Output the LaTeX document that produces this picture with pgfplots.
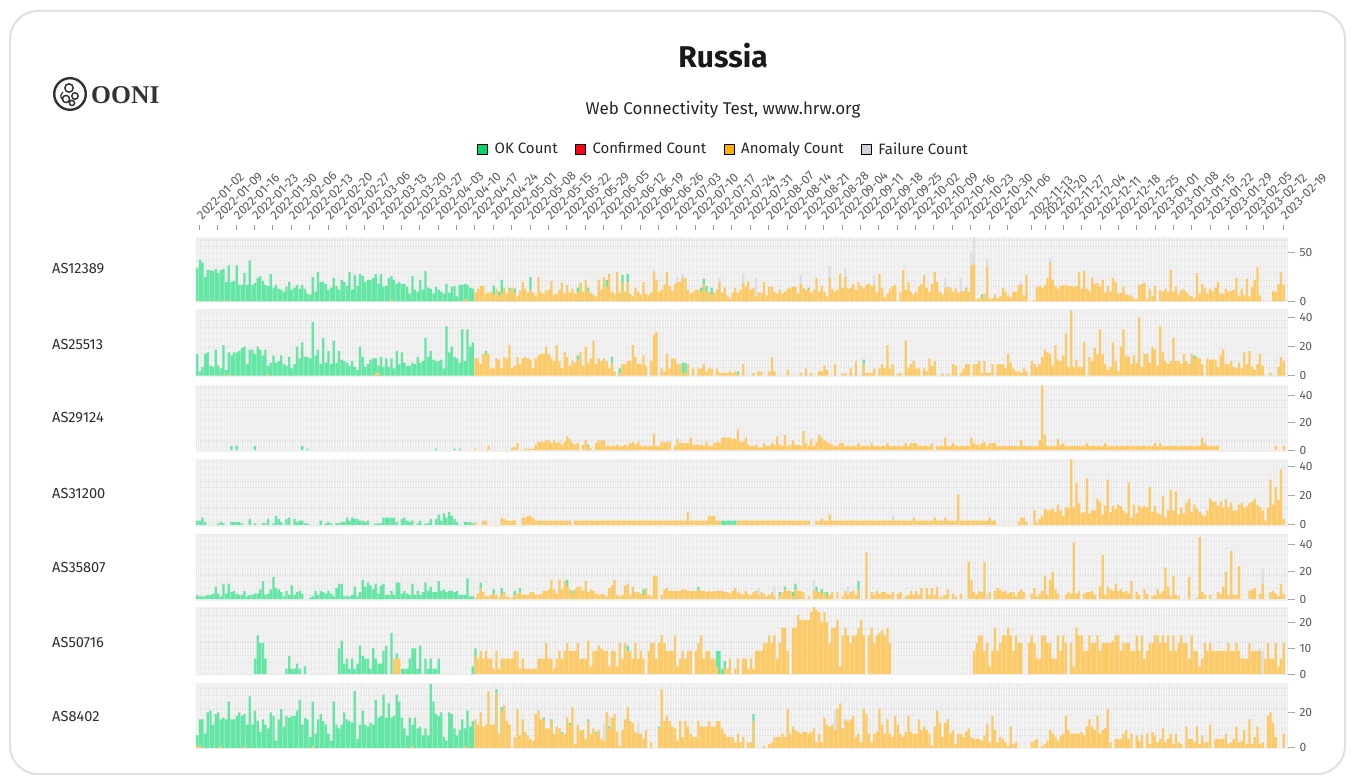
\documentclass[border=0pt]{standalone}
\usepackage{fontspec}
\usepackage{pgfplots}
\pgfplotsset{compat=1.18}
\setmainfont{Fira Sans}
\newfontfamily\logofont{Liberation Serif}
\definecolor{okc}{HTML}{64E6A5}
\definecolor{anc}{HTML}{FDCA68}
\definecolor{flc}{HTML}{DCE1E8}
\definecolor{bgc}{HTML}{EDEDED}
\definecolor{hgc}{HTML}{E3E3E3}
\definecolor{vgc}{HTML}{F5F5F5}
\definecolor{txc}{HTML}{5A5A5A}
\definecolor{lgok}{HTML}{00D66B}
\definecolor{lgcf}{HTML}{FF0019}
\definecolor{lgan}{HTML}{FFB000}
\definecolor{lgfl}{HTML}{CED4DA}
\pgfplotsset{
  panel/.style={scale only axis,width=1092pt,xmin=-0.5,xmax=415.65,
    axis line style={draw=none},ybar,bar shift=0pt,bar width=2.25pt,
    xtick=\empty,ytick pos=right,yticklabel pos=right,tick align=outside,
    major tick length=7pt,ytick style={draw=gray!70,line width=0.9pt},
    /pgf/number format/assume math mode=true,
    yticklabel style={font=\fontsize{12}{14}\selectfont,text=txc,xshift=1pt}},
  okb/.style={fill=okc,draw=none,bar shift=0pt},
  anb/.style={fill=anc,draw=none,bar shift=0pt},
  flb/.style={fill=flc,draw=none,bar shift=0pt},
  table/gz/.style={row sep=crcr,header=false,x expr=\coordindex,y index=0},
  table/az/.style={row sep=crcr,header=false,x expr=\coordindex+106,y index=0},
}
\newcommand\panelbg[2]{%
  \fill[bgc] (196,776-#2) rectangle (1288,776-#1);
  \draw[hgc,line width=1.1pt,xstep=2000,ystep=6.7] (196,776-#2) grid (1288,776-#1);
  \draw[vgc,line width=0.45pt,xstep=2.624,ystep=2000] (196,776-#2) grid (1288,776-#1);
}
\newcommand\aslabel[2]{\node[anchor=west,inner sep=0pt,text=black!82,font=\fontsize{14.6}{16}\selectfont] at (52,775-#2) {#1};}
\begin{document}
\begin{tikzpicture}[x=1pt,y=1pt]
\useasboundingbox (0,0) rectangle (1362,776);
\fill[white] (0,0) rectangle (1362,776);
\draw[draw=black!12,line width=2pt,rounded corners=28pt] (10,2) rectangle (1345,765);
\node[font=\fontsize{30}{34}\selectfont\bfseries,text=black!90] at (723,776-56) {Russia};
\node[font=\fontsize{17}{19}\selectfont,text=black!85] at (723,776-110) {Web Connectivity Test, www.hrw.org};
% logo
\draw[black!80,line width=2.4pt] (70,682) circle (15.8);
\draw[black!80,line width=1.5pt] (69,688) circle (4.2) (75,680) circle (3.2) (66,677) circle (3.6) (72,673) circle (2.6);
\draw[black!80,line width=1.2pt] (63,684) .. controls (60,680) .. (63,676);
\node[anchor=west,inner sep=0pt,font=\logofont\bfseries\fontsize{25.6}{27}\selectfont,text=black!80] at (91,681) {OONI};
\aslabel{AS12389}{268}\aslabel{AS25513}{343}\aslabel{AS29124}{417}\aslabel{AS31200}{492}\aslabel{AS35807}{566}\aslabel{AS50716}{641}\aslabel{AS8402}{715}
\panelbg{236.7}{302}\panelbg{309.3}{377}\panelbg{385}{451.7}\panelbg{459}{526.7}\panelbg{534}{600.7}\panelbg{607.3}{675.3}\panelbg{683.3}{749}

% tick + legend axis
\begin{axis}[at={(196pt,546pt)},anchor=south west,scale only axis,width=1092pt,height=5pt,
  xmin=196,xmax=1288,ymin=0,ymax=5,axis line style={draw=none},ytick=\empty,
  xtick pos=top,xticklabel pos=top,tick align=inside,major tick length=5pt,
  xtick style={draw=gray!80,line width=0.9pt},
  xtick={199.5,217.9,236.2,254.6,272.9,291.3,309.7,328.0,346.4,364.7,383.1,401.5,419.8,438.2,456.5,474.9,493.3,511.6,530.0,548.3,566.7,585.1,603.4,621.8,640.1,658.5,676.9,695.2,713.6,731.9,750.3,768.7,787.0,805.4,823.7,842.1,860.5,878.8,897.2,915.5,933.9,952.3,970.6,989.0,1007.3,1031.7,1045,1063.3,1081.7,1100,1118.3,1136.7,1155,1173.3,1191.7,1210,1228.3,1246.7,1263.3,1283.3},
  xticklabels={2022-01-02,2022-01-09,2022-01-16,2022-01-23,2022-01-30,2022-02-06,2022-02-13,2022-02-20,2022-02-27,2022-03-06,2022-03-13,2022-03-20,2022-03-27,2022-04-03,2022-04-10,2022-04-17,2022-04-24,2022-05-01,2022-05-08,2022-05-15,2022-05-22,2022-05-29,2022-06-05,2022-06-12,2022-06-19,2022-06-26,2022-07-03,2022-07-10,2022-07-17,2022-07-24,2022-07-31,2022-08-07,2022-08-14,2022-08-21,2022-08-28,2022-09-04,2022-09-11,2022-09-18,2022-09-25,2022-10-02,2022-10-09,2022-10-16,2022-10-23,2022-10-30,2022-11-06,2022-11-13,2022-11-20,2022-11-27,2022-12-04,2022-12-11,2022-12-18,2022-12-25,2023-01-01,2023-01-08,2023-01-15,2023-01-22,2023-01-29,2023-02-05,2023-02-12,2023-02-19},
  x tick label style={rotate=45,anchor=south west,inner sep=0pt,xshift=5pt,yshift=1pt,font=\fontsize{12.5}{14}\selectfont,text=txc},
  legend style={at={(0.4831,16.2)},anchor=center,draw=none,fill=none,legend columns=4,
    font=\fontsize{15}{17}\selectfont,text=black!85,
    /tikz/every even column/.append style={column sep=15.5pt},
    /tikz/every odd column/.append style={column sep=5pt}},
  legend cell align=left,
  legend image code/.code={\fill[#1] (0cm,-0.175cm) rectangle (0.35cm,0.175cm);},
]
\addlegendimage{fill=lgok}\addlegendentry{OK Count}
\addlegendimage{fill=lgcf}\addlegendentry{Confirmed Count}
\addlegendimage{fill=lgan}\addlegendentry{Anomaly Count}
\addlegendimage{fill=lgfl}\addlegendentry{Failure Count}
\end{axis}

% AS12389
\begin{axis}[panel,at={(196pt,474pt)},anchor=south west,height=65.3pt,ymin=-0.7,ymax=66.5,ytick={0,50}]
\addplot[flb] coordinates {(296,66)(295,50)(301,44)(325,45)(241,36)(247,34)(230,27)(258,27)(285,24)(291,24)(314,20)(208,29)(213,24)(174,32)(185,28)(183,25)(199,24)};
\addplot[okb] table[gz] {34\\43\\40\\25\\32\\32\\31\\33\\29\\32\\
33\\20\\37\\20\\21\\37\\17\\17\\29\\17\\
42\\17\\19\\24\\26\\21\\17\\16\\28\\14\\
17\\13\\12\\10\\15\\20\\12\\14\\17\\13\\
17\\13\\8\\7\\25\\10\\30\\20\\20\\18\\
12\\14\\24\\16\\12\\22\\20\\16\\30\\12\\
27\\16\\28\\26\\20\\22\\22\\24\\28\\18\\
28\\15\\16\\24\\26\\22\\18\\20\\18\\18\\
15\\8\\26\\12\\10\\22\\12\\31\\14\\13\\
8\\15\\12\\10\\8\\18\\9\\15\\16\\5\\
17\\17\\18\\17\\14\\13\\};
\addplot[okb] coordinates {(113,16)(115,10)(116,22)(119,14)(121,13)(127,25)(145,14)(146,19)(149,14)(156,22)(162,27)(164,28)(192,14)(193,23)(194,16)(196,14)(233,14)(293,14)(299,7)};
\addplot[anb] table[az] {9\\13\\16\\16\\8\\9\\10\\7\\13\\6\\
9\\14\\8\\12\\14\\9\\5\\11\\20\\13\\
9\\12\\9\\6\\25\\10\\8\\11\\12\\21\\
7\\8\\12\\19\\8\\17\\9\\13\\8\\10\\
19\\10\\22\\11\\9\\7\\5\\22\\12\\25\\
15\\28\\10\\8\\30\\9\\19\\10\\20\\8\\
5\\14\\10\\7\\20\\8\\6\\9\\30\\22\\
10\\12\\17\\30\\16\\11\\18\\20\\20\\24\\
24\\12\\8\\10\\12\\12\\10\\18\\10\\10\\
7\\9\\12\\20\\9\\14\\6\\3\\9\\14\\
9\\12\\19\\15\\20\\12\\14\\5\\9\\9\\
20\\6\\15\\15\\10\\8\\12\\8\\10\\13\\
14\\15\\15\\8\\18\\14\\12\\13\\9\\12\\
24\\10\\16\\10\\5\\24\\13\\10\\12\\28\\
14\\25\\13\\14\\18\\12\\20\\16\\14\\17\\
18\\16\\17\\9\\28\\14\\4\\8\\13\\16\\
17\\0\\9\\32\\12\\20\\10\\7\\10\\15\\
18\\27\\14\\10\\18\\30\\20\\10\\7\\13\\
15\\14\\10\\13\\9\\10\\11\\13\\10\\37\\
39\\2\\3\\4\\8\\35\\3\\3\\7\\3\\
5\\14\\10\\6\\4\\10\\10\\17\\17\\6\\
27\\0\\0\\1\\15\\16\\14\\17\\24\\40\\
22\\16\\13\\16\\17\\17\\16\\16\\15\\16\\
30\\13\\31\\13\\11\\24\\18\\19\\15\\22\\
9\\16\\10\\24\\20\\8\\9\\15\\7\\6\\
6\\3\\2\\17\\18\\19\\2\\13\\5\\16\\
0\\12\\10\\13\\10\\32\\10\\15\\7\\12\\
12\\10\\6\\5\\3\\29\\8\\18\\14\\8\\
13\\10\\14\\20\\8\\8\\13\\10\\11\\12\\
24\\5\\13\\6\\23\\5\\15\\22\\35\\6\\
0\\0\\0\\0\\11\\10\\18\\30\\17\\};
\addplot[anb] coordinates {(1,1)(8,1)(11,1)(74,2)(102,2)(103,2)};
\end{axis}

% AS25513
\begin{axis}[panel,at={(196pt,399pt)},anchor=south west,height=67.7pt,ymin=-0.9,ymax=45.8,ytick={0,20,40}]
\addplot[okb] table[gz] {15\\3\\6\\15\\16\\7\\6\\18\\7\\5\\
21\\4\\16\\14\\16\\16\\17\\19\\20\\8\\
18\\18\\15\\20\\18\\14\\18\\7\\9\\14\\
9\\10\\14\\8\\7\\13\\5\\8\\20\\12\\
23\\13\\13\\12\\37\\14\\18\\8\\26\\9\\
17\\8\\24\\9\\17\\11\\10\\9\\7\\10\\
6\\4\\20\\13\\6\\8\\11\\12\\12\\7\\
13\\6\\12\\6\\12\\5\\17\\8\\16\\9\\
7\\7\\9\\8\\13\\9\\10\\26\\13\\17\\
11\\10\\10\\11\\5\\34\\16\\20\\13\\12\\
9\\32\\10\\32\\20\\23\\};
\addplot[okb] coordinates {(110,17)(145,14)(158,13)(161,5)(185,9)(186,9)(206,3)(254,11)(380,14)};
\addplot[anb] table[az] {12\\12\\8\\15\\15\\15\\5\\5\\12\\11\\
5\\13\\12\\21\\5\\7\\13\\8\\12\\13\\
12\\11\\5\\12\\14\\15\\15\\20\\15\\12\\
10\\21\\10\\5\\16\\13\\7\\10\\9\\11\\
16\\7\\20\\9\\12\\24\\8\\12\\10\\12\\
10\\5\\9\\3\\0\\2\\8\\8\\10\\10\\
21\\13\\8\\8\\14\\7\\0\\10\\28\\30\\
0\\5\\3\\15\\5\\12\\12\\8\\8\\2\\
2\\8\\0\\5\\0\\5\\5\\8\\3\\5\\
5\\0\\5\\2\\2\\2\\2\\3\\2\\3\\
1\\0\\8\\0\\0\\0\\2\\0\\3\\3\\
0\\0\\3\\13\\3\\0\\0\\0\\0\\4\\
0\\0\\0\\0\\2\\0\\5\\0\\2\\0\\
0\\3\\3\\7\\4\\0\\0\\8\\0\\0\\
1\\2\\0\\5\\0\\10\\0\\0\\8\\2\\
2\\2\\5\\0\\5\\8\\5\\21\\5\\8\\
0\\1\\2\\0\\24\\5\\8\\10\\5\\5\\
0\\5\\3\\12\\7\\10\\0\\0\\1\\0\\
1\\0\\8\\7\\0\\2\\5\\8\\8\\0\\
8\\8\\10\\2\\10\\2\\2\\8\\0\\8\\
8\\8\\5\\15\\9\\5\\3\\3\\2\\5\\
3\\0\\10\\8\\6\\8\\13\\18\\16\\15\\
7\\21\\11\\10\\14\\29\\6\\45\\6\\11\\
6\\6\\23\\0\\13\\10\\19\\15\\32\\15\\
8\\4\\6\\23\\10\\3\\20\\32\\14\\13\\
8\\14\\9\\40\\6\\15\\15\\9\\20\\18\\
7\\34\\16\\10\\8\\10\\26\\10\\10\\8\\
15\\10\\8\\15\\12\\13\\12\\8\\0\\12\\
11\\11\\11\\6\\14\\18\\8\\8\\10\\6\\
5\\9\\5\\16\\8\\17\\6\\4\\8\\15\\
7\\0\\0\\2\\0\\0\\6\\13\\10\\};
\addplot[anb] coordinates {(12,1)(27,1)(68,2)(69,2)};
\end{axis}

% AS29124
\begin{axis}[panel,at={(196pt,324.3pt)},anchor=south west,height=66.7pt,ymin=-1.2,ymax=47.3,ytick={0,20,40}]
\addplot[okb] coordinates {(13,3)(15,3)(22,3)(40,3)(42,1)(91,1)(98,1)(100,1)(149,4)};
\addplot[anb] table[az] {1\\0\\0\\0\\0\\3\\0\\0\\0\\0\\
0\\0\\0\\0\\2\\2\\5\\0\\0\\1\\
1\\1\\1\\4\\6\\6\\6\\7\\7\\5\\
7\\5\\6\\4\\6\\10\\8\\5\\4\\5\\
0\\4\\7\\3\\1\\0\\5\\7\\7\\7\\
3\\3\\3\\3\\4\\3\\3\\4\\3\\5\\
6\\4\\6\\3\\3\\3\\3\\3\\12\\3\\
3\\6\\6\\6\\6\\0\\3\\8\\5\\5\\
5\\5\\9\\4\\4\\4\\4\\3\\6\\3\\
3\\5\\6\\5\\9\\9\\9\\9\\8\\8\\
15\\6\\6\\9\\4\\3\\3\\4\\2\\2\\
5\\3\\3\\5\\4\\10\\4\\3\\11\\3\\
4\\7\\4\\4\\3\\14\\5\\3\\8\\3\\
6\\11\\9\\7\\6\\5\\4\\3\\3\\5\\
5\\3\\3\\3\\3\\3\\5\\3\\3\\3\\
3\\5\\3\\3\\3\\3\\3\\5\\3\\3\\
3\\3\\3\\3\\5\\3\\5\\5\\5\\3\\
3\\3\\3\\3\\5\\0\\3\\3\\3\\9\\
3\\3\\5\\3\\3\\3\\3\\3\\3\\9\\
5\\4\\4\\5\\6\\3\\5\\5\\5\\3\\
3\\3\\3\\3\\3\\3\\3\\3\\7\\3\\
3\\3\\3\\3\\3\\7\\47\\11\\3\\3\\
3\\3\\8\\4\\5\\3\\3\\3\\3\\3\\
3\\3\\3\\5\\3\\3\\3\\3\\3\\3\\
5\\3\\3\\3\\3\\3\\3\\3\\3\\3\\
3\\3\\3\\3\\3\\3\\3\\3\\3\\5\\
3\\5\\3\\3\\3\\3\\3\\3\\3\\3\\
3\\3\\3\\3\\3\\3\\3\\9\\5\\3\\
3\\3\\3\\3\\0\\0\\0\\0\\0\\0\\
0\\0\\0\\0\\0\\0\\0\\0\\0\\0\\
0\\0\\0\\0\\0\\3\\0\\0\\3\\};
\end{axis}

% AS31200
\begin{axis}[panel,at={(196pt,249.3pt)},anchor=south west,height=67.7pt,ymin=-1.2,ymax=45.2,ytick={0,20,40}]
\addplot[flb] coordinates {(265,7)};
\addplot[okb] table[gz] {3\\3\\5\\2\\0\\0\\0\\0\\1\\2\\
1\\0\\0\\2\\2\\2\\2\\1\\0\\0\\
4\\0\\1\\0\\0\\1\\1\\4\\0\\1\\
6\\4\\2\\0\\4\\5\\0\\4\\2\\3\\
3\\1\\1\\0\\0\\0\\0\\3\\0\\1\\
2\\1\\0\\1\\1\\2\\2\\5\\3\\5\\
4\\4\\3\\3\\2\\3\\0\\0\\1\\1\\
1\\5\\5\\5\\5\\5\\2\\0\\4\\5\\
3\\2\\3\\0\\1\\3\\0\\1\\1\\4\\
0\\4\\7\\3\\8\\5\\9\\6\\4\\2\\
0\\0\\2\\2\\2\\1\\};
\addplot[okb] coordinates {(200,3)(201,3)(202,3)(203,3)(204,3)(205,3)};
\addplot[anb] table[az] {2\\0\\0\\3\\3\\0\\0\\0\\0\\0\\
5\\4\\3\\3\\3\\3\\0\\0\\5\\5\\
6\\6\\5\\3\\3\\3\\3\\3\\3\\3\\
3\\3\\3\\3\\3\\3\\3\\0\\3\\3\\
3\\3\\3\\3\\3\\3\\3\\3\\3\\3\\
3\\3\\3\\3\\3\\3\\3\\3\\3\\3\\
3\\3\\3\\3\\3\\3\\3\\3\\3\\3\\
3\\3\\3\\3\\3\\3\\3\\3\\3\\3\\
3\\9\\3\\3\\3\\3\\3\\3\\3\\6\\
6\\6\\3\\3\\0\\0\\0\\0\\0\\0\\
3\\3\\3\\3\\3\\3\\3\\3\\3\\3\\
3\\3\\3\\3\\3\\3\\3\\3\\3\\3\\
3\\3\\3\\3\\3\\3\\3\\3\\0\\0\\
3\\3\\4\\3\\3\\7\\3\\3\\3\\3\\
3\\3\\3\\3\\3\\3\\3\\3\\3\\3\\
3\\3\\3\\3\\3\\3\\3\\3\\3\\3\\
3\\3\\3\\3\\3\\3\\3\\5\\3\\3\\
3\\3\\3\\3\\3\\5\\3\\3\\3\\5\\
3\\3\\3\\3\\21\\3\\3\\3\\3\\3\\
3\\3\\3\\3\\3\\3\\5\\3\\3\\0\\
0\\0\\0\\0\\0\\0\\0\\2\\5\\5\\
2\\0\\0\\10\\2\\4\\6\\11\\10\\10\\
11\\9\\14\\10\\6\\12\\12\\45\\12\\29\\
15\\8\\9\\32\\8\\10\\10\\18\\16\\7\\
13\\31\\9\\13\\11\\14\\13\\10\\8\\29\\
5\\14\\8\\13\\12\\13\\12\\26\\9\\13\\
8\\7\\20\\5\\10\\24\\10\\23\\7\\12\\
8\\15\\18\\9\\14\\11\\9\\7\\6\\10\\
18\\16\\16\\13\\16\\12\\18\\12\\15\\10\\
10\\14\\15\\12\\13\\15\\16\\18\\14\\12\\
10\\3\\12\\31\\14\\26\\17\\38\\4\\};
\end{axis}

% AS35807
\begin{axis}[panel,at={(196pt,175.3pt)},anchor=south west,height=66.7pt,ymin=-1.2,ymax=47.3,ytick={0,20,40}]
\addplot[flb] coordinates {(406,22)(214,8)(220,9)(235,13)(248,9)(258,5)(301,4)};
\addplot[okb] table[gz] {3\\2\\2\\2\\3\\3\\4\\9\\4\\2\\
11\\4\\11\\5\\6\\4\\3\\3\\6\\2\\
3\\3\\4\\4\\7\\13\\3\\4\\7\\16\\
8\\7\\5\\2\\6\\3\\10\\3\\5\\6\\
4\\0\\0\\1\\2\\6\\3\\6\\5\\4\\
6\\4\\2\\8\\11\\11\\2\\2\\2\\3\\
9\\2\\5\\14\\9\\12\\10\\7\\11\\4\\
10\\11\\3\\3\\6\\3\\12\\12\\4\\6\\
4\\3\\11\\3\\6\\3\\5\\12\\6\\9\\
5\\5\\13\\6\\7\\5\\6\\6\\5\\6\\
3\\3\\3\\15\\2\\2\\};
\addplot[okb] coordinates {(108,12)(113,7)(116,8)(121,6)(123,8)(141,14)(143,6)(170,7)(191,9)(222,5)(224,9)(227,5)(228,11)(236,9)(238,7)(240,5)(252,13)};
\addplot[anb] table[az] {1\\4\\8\\5\\2\\2\\3\\4\\3\\1\\
4\\5\\2\\1\\1\\3\\4\\5\\3\\3\\
3\\5\\5\\3\\3\\4\\6\\6\\7\\14\\
7\\4\\14\\7\\13\\10\\7\\4\\7\\9\\
9\\6\\13\\5\\7\\6\\4\\3\\4\\3\\
2\\8\\10\\14\\3\\2\\3\\10\\11\\3\\
9\\5\\5\\4\\3\\8\\3\\2\\17\\17\\
0\\3\\7\\8\\6\\6\\6\\6\\6\\7\\
7\\6\\6\\6\\6\\7\\6\\6\\5\\6\\
5\\6\\6\\6\\6\\5\\5\\4\\6\\8\\
5\\4\\3\\6\\4\\3\\5\\6\\3\\5\\
4\\2\\3\\5\\2\\0\\3\\5\\7\\6\\
6\\2\\7\\6\\6\\5\\0\\2\\0\\6\\
6\\5\\4\\5\\2\\3\\5\\0\\5\\0\\
2\\6\\3\\5\\6\\3\\7\\0\\0\\34\\
0\\5\\3\\6\\4\\5\\5\\4\\3\\5\\
0\\4\\5\\0\\2\\3\\6\\3\\6\\3\\
8\\0\\8\\3\\8\\3\\9\\1\\2\\3\\
7\\0\\4\\2\\0\\4\\0\\0\\27\\14\\
5\\3\\6\\5\\27\\0\\5\\0\\6\\8\\
7\\5\\6\\4\\5\\5\\2\\5\\7\\5\\
0\\0\\4\\8\\2\\4\\6\\17\\3\\14\\
20\\7\\4\\0\\0\\3\\5\\4\\41\\4\\
6\\0\\4\\5\\5\\6\\3\\0\\9\\32\\
3\\9\\7\\6\\11\\6\\7\\5\\6\\4\\
13\\0\\5\\3\\0\\7\\4\\0\\2\\3\\
7\\4\\6\\23\\9\\2\\17\\3\\2\\0\\
0\\0\\16\\0\\0\\1\\45\\5\\3\\0\\
3\\0\\0\\5\\4\\9\\20\\3\\35\\3\\
3\\24\\0\\0\\0\\6\\7\\8\\0\\4\\
11\\0\\0\\5\\6\\4\\2\\11\\4\\};
\end{axis}

% AS50716
\begin{axis}[panel,at={(196pt,100.7pt)},anchor=south west,height=68pt,ymin=-0.5,ymax=25.9,ytick={0,10,20}]
\addplot[flb] coordinates {(406,9)(405,10)};
\addplot[okb] table[gz] {0\\0\\0\\0\\0\\0\\0\\0\\0\\0\\
0\\0\\0\\0\\0\\0\\0\\0\\0\\0\\
0\\0\\6\\15\\12\\12\\6\\0\\0\\0\\
0\\0\\0\\0\\2\\7\\2\\2\\4\\2\\
0\\3\\0\\0\\0\\0\\0\\0\\0\\0\\
0\\0\\0\\0\\10\\13\\4\\6\\2\\6\\
2\\4\\11\\7\\6\\6\\2\\10\\6\\4\\
4\\9\\11\\0\\16\\0\\8\\0\\2\\2\\
2\\6\\10\\10\\2\\11\\0\\6\\2\\6\\
2\\2\\6\\0\\0\\0\\0\\0\\0\\0\\
0\\0\\0\\0\\0\\3\\};
\addplot[okb] coordinates {(106,10)(164,11)(198,9)(199,9)(200,2)(201,5)};
\addplot[anb] coordinates {(75,6)(76,6)(77,6)};
\addplot[anb] table[az] {7\\6\\9\\6\\9\\6\\6\\2\\9\\2\\
6\\6\\6\\6\\6\\9\\9\\2\\6\\2\\
2\\2\\2\\2\\6\\6\\6\\12\\6\\6\\
2\\6\\9\\6\\9\\12\\9\\9\\9\\12\\
6\\6\\6\\13\\3\\9\\9\\11\\10\\9\\
9\\3\\9\\9\\3\\12\\6\\12\\9\\9\\
6\\12\\6\\9\\6\\0\\9\\12\\12\\6\\
12\\15\\12\\9\\9\\9\\15\\3\\6\\9\\
6\\9\\9\\0\\9\\12\\15\\6\\9\\9\\
6\\6\\3\\0\\0\\2\\2\\6\\0\\2\\
6\\0\\6\\6\\2\\6\\2\\9\\9\\9\\
12\\12\\15\\12\\15\\6\\12\\18\\18\\9\\
0\\18\\18\\23\\21\\21\\21\\21\\24\\26\\
25\\24\\20\\24\\20\\12\\18\\18\\21\\3\\
15\\18\\15\\12\\15\\15\\18\\21\\15\\0\\
15\\18\\12\\15\\16\\17\\15\\18\\12\\0\\
0\\0\\0\\0\\0\\0\\0\\0\\0\\0\\
0\\0\\0\\0\\0\\0\\0\\0\\0\\0\\
0\\0\\0\\0\\0\\0\\0\\0\\0\\0\\
9\\12\\15\\15\\9\\12\\3\\9\\18\\9\\
12\\15\\15\\18\\15\\9\\15\\12\\12\\0\\
0\\12\\15\\12\\6\\6\\15\\15\\12\\12\\
6\\6\\15\\9\\15\\12\\0\\12\\3\\18\\
15\\15\\9\\9\\15\\12\\12\\15\\9\\12\\
12\\12\\12\\13\\15\\15\\9\\12\\12\\12\\
9\\9\\15\\9\\15\\6\\9\\12\\12\\15\\
15\\12\\15\\12\\15\\9\\15\\9\\12\\15\\
12\\12\\6\\15\\9\\9\\3\\6\\12\\9\\
12\\9\\9\\9\\9\\9\\9\\12\\9\\9\\
12\\9\\6\\6\\6\\12\\9\\9\\9\\9\\
0\\6\\12\\6\\6\\12\\3\\6\\12\\};
\end{axis}

% AS8402
\begin{axis}[panel,at={(196pt,27pt)},anchor=south west,height=65.7pt,ymin=-0.7,ymax=36.4,ytick={0,20}]
\addplot[flb] coordinates {(155,14)(156,20)(157,18)(168,14)(243,21)(301,14)(360,8)};
\addplot[okb] table[gz] {7\\16\\16\\8\\20\\21\\13\\19\\20\\16\\
17\\16\\26\\16\\16\\18\\20\\18\\19\\13\\
29\\13\\21\\15\\9\\16\\13\\11\\20\\18\\
4\\16\\22\\12\\18\\17\\18\\18\\21\\27\\
13\\17\\16\\6\\26\\8\\16\\19\\15\\13\\
8\\4\\26\\13\\11\\13\\20\\16\\15\\14\\
32\\5\\13\\21\\13\\12\\14\\13\\27\\17\\
18\\30\\17\\25\\17\\18\\30\\26\\17\\11\\
7\\17\\13\\17\\11\\12\\7\\11\\7\\36\\
26\\19\\18\\20\\6\\4\\20\\19\\11\\7\\
10\\16\\11\\21\\12\\15\\};
\addplot[okb] coordinates {(114,33)(116,23)(132,17)(135,16)(139,9)(142,14)(148,5)(149,16)(152,9)(157,12)(176,12)(212,19)};
\addplot[anb] coordinates {(0,1)(1,1)(9,1)(18,1)(44,1)(82,1)(102,1)};
\addplot[anb] table[az] {16\\13\\20\\12\\13\\32\\13\\13\\31\\8\\
21\\24\\15\\13\\0\\6\\22\\7\\16\\9\\
7\\5\\4\\19\\21\\16\\16\\11\\11\\15\\
8\\12\\11\\8\\8\\17\\13\\23\\2\\13\\
10\\10\\5\\15\\8\\11\\8\\10\\5\\4\\
20\\11\\17\\19\\9\\1\\10\\16\\23\\15\\
14\\9\\8\\8\\5\\10\\0\\3\\0\\0\\
11\\33\\15\\18\\15\\12\\11\\4\\15\\6\\
15\\12\\8\\6\\6\\15\\12\\12\\12\\15\\
12\\12\\15\\15\\11\\8\\6\\6\\6\\3\\
8\\3\\6\\0\\3\\3\\15\\0\\0\\0\\
1\\0\\2\\3\\6\\6\\6\\8\\6\\22\\
8\\12\\10\\9\\8\\9\\9\\8\\9\\11\\
3\\8\\3\\17\\13\\12\\13\\10\\22\\25\\
11\\16\\15\\16\\18\\6\\8\\3\\22\\19\\
8\\3\\8\\9\\22\\13\\8\\16\\8\\6\\
18\\13\\8\\6\\9\\18\\9\\8\\8\\16\\
10\\12\\10\\8\\1\\12\\21\\14\\6\\14\\
16\\8\\10\\2\\8\\8\\6\\9\\11\\6\\
5\\5\\5\\4\\7\\13\\3\\18\\10\\3\\
6\\5\\3\\1\\12\\2\\3\\0\\0\\0\\
0\\0\\3\\4\\5\\0\\1\\2\\4\\10\\
8\\6\\4\\7\\8\\18\\10\\8\\8\\8\\
8\\9\\7\\12\\16\\12\\10\\18\\8\\10\\
11\\22\\3\\0\\5\\5\\5\\8\\10\\5\\
8\\0\\7\\4\\7\\0\\8\\2\\9\\7\\
3\\5\\11\\3\\5\\8\\2\\8\\3\\2\\
0\\12\\5\\5\\3\\12\\2\\7\\3\\3\\
13\\0\\5\\5\\5\\5\\8\\2\\3\\5\\
12\\3\\4\\10\\2\\16\\2\\6\\12\\2\\
3\\0\\18\\20\\14\\6\\0\\0\\8\\};
\end{axis}
\end{tikzpicture}
\end{document}
